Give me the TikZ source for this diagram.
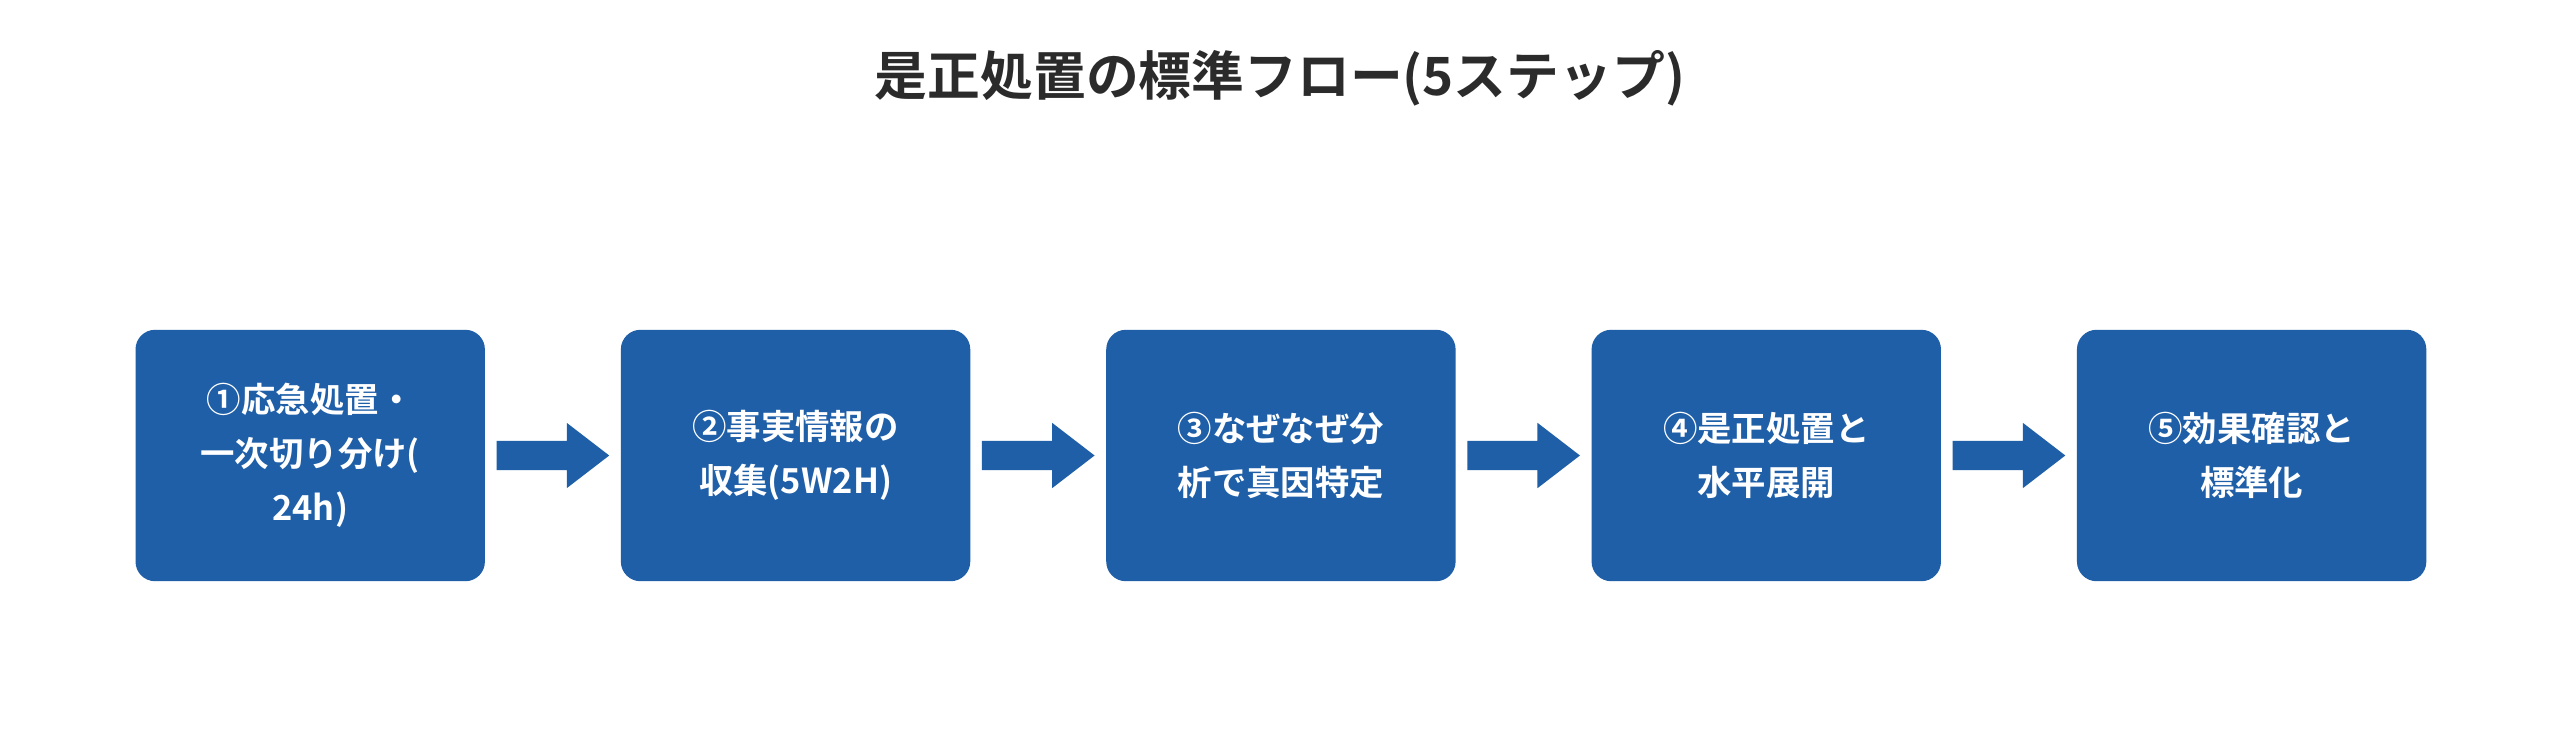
\documentclass[tikz,border=0pt]{standalone}
\usepackage{fontspec}
\setmainfont{Noto Sans CJK JP}[BoldFont={* Bold}]
\usetikzlibrary{positioning}
\definecolor{stepblue}{HTML}{1F5FA8}
\definecolor{titlegray}{HTML}{2B2B2B}
\tikzset{
  stepbox/.style={fill=stepblue, rounded corners=6mm, minimum width=107mm, minimum height=77mm,
    text=white, align=center, font=\fontsize{30}{47}\selectfont\bfseries, inner sep=0pt},
}
\begin{document}
\begin{tikzpicture}
    \useasboundingbox[fill=white] (0,0) rectangle (784mm,231.5mm);
    \node[font=\fontsize{46}{50}\selectfont\bfseries, text=titlegray] (title) at (392mm,207.5mm) {是正処置の標準フロー(5ステップ)};
    \node[stepbox] (s1) at (95mm,92mm) {①応急処置・\\一次切り分け(\\24h)};
    \node[stepbox, right=41.5mm of s1] (s2) {②事実情報の\\収集(5W2H)};
    \node[stepbox, right=41.5mm of s2] (s3) {③なぜなぜ分\\析で真因特定};
    \node[stepbox, right=41.5mm of s3] (s4) {④是正処置と\\水平展開};
    \node[stepbox, right=41.5mm of s4] (s5) {⑤効果確認と\\標準化};
    % block arrows between steps
    \foreach \a in {s1,s2,s3,s4}
      \fill[stepblue] ([xshift=3.5mm,yshift=4.5mm]\a.east) -- ++(21.5mm,0) -- ++(0,5.5mm)
        -- ++(13mm,-10mm) -- ++(-13mm,-10mm) -- ++(0,5.5mm) -- ++(-21.5mm,0) -- cycle;
\end{tikzpicture}
\end{document}
